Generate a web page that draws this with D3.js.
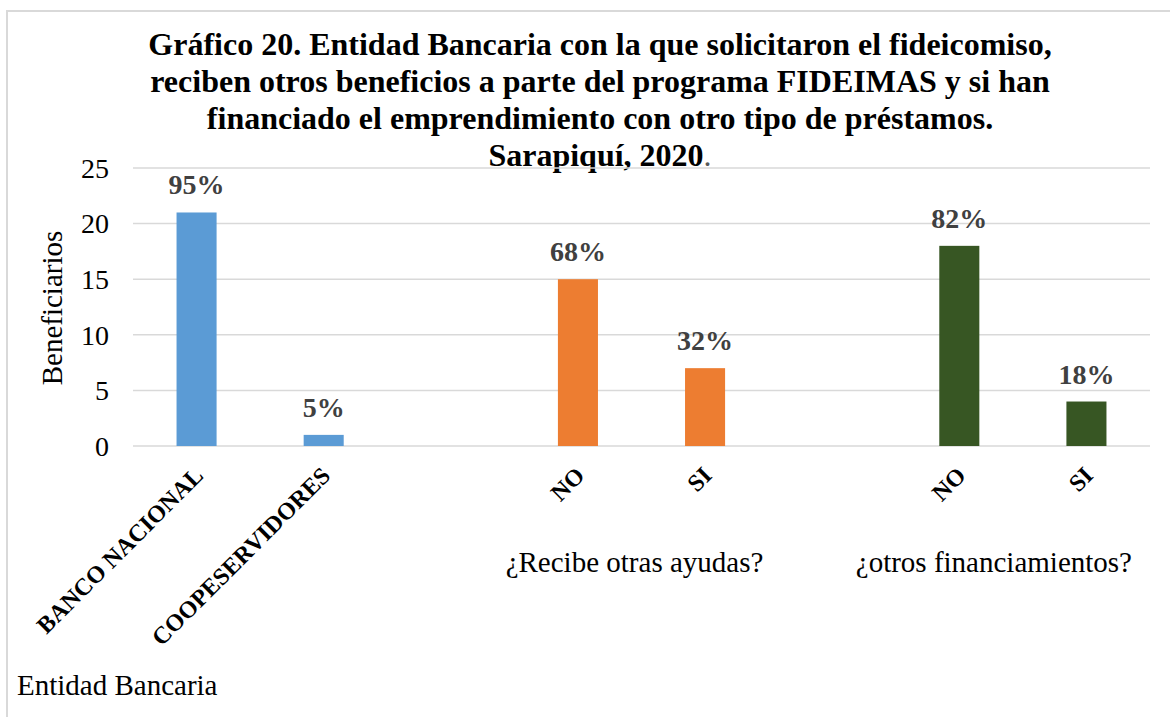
<html>
<head>
    <script src="https://d3js.org/d3.v7.min.js"></script>
    <style type="text/css">
        body { margin: 0; background: #fff; }
        svg { display: block; }
        text { font-family: "Liberation Serif", "Times New Roman", serif; }
        .grid line { stroke: #d9d9d9; stroke-width: 1.5px; }
        .tick-label { font-size: 28px; fill: #000; }
        .cat-label { font-size: 24px; font-weight: bold; fill: #000; }
        .data-label { font-size: 28px; font-weight: bold; fill: #404040; }
        .group-label { font-size: 29px; fill: #000; }
        .title { font-size: 32px; font-weight: bold; fill: #000; }
    </style>
</head>
<body>
    <script type="text/javascript">
        // data
        var groups = ["Entidad Bancaria", "¿Recibe otras ayudas?", "¿otros financiamientos?"];
        var categories = ["BANCO NACIONAL", "COOPESERVIDORES", "NO", "SI", "NO", "SI"];
        var groupOf = [0, 0, 1, 1, 2, 2];
        var values = [21, 1, 15, 7, 18, 4];
        var percents = ["95%", "5%", "68%", "32%", "82%", "18%"];
        var yTicks = [0, 5, 10, 15, 20, 25];
        var groupColors = ["#5B9BD5", "#ED7D31", "#375623"];
        var titleLines = [
            "Gráfico 20. Entidad Bancaria con la que solicitaron el fideicomiso,",
            "reciben otros beneficios a parte del programa FIDEIMAS y si han",
            "financiado el emprendimiento con otro tipo de préstamos.",
            "Sarapiquí, 2020"
        ];

        var width = 1170, height = 717;
        var plot = {left: 133, right: 1150, top: 168, bottom: 446};

        // one slot per bar, plus an empty slot between groups
        var slots = [];
        var rows = categories.map(function (c, i) {
            if (i > 0 && groupOf[i] !== groupOf[i - 1]) slots.push("gap" + i);
            var key = i + "-" + c;
            slots.push(key);
            return {key: key, name: c, group: groupOf[i], value: values[i], pct: percents[i]};
        });

        var x = d3.scaleBand().domain(slots).range([plot.left, plot.right])
            .paddingInner(0.685).paddingOuter(0.3425);
        var y = d3.scaleLinear().domain([0, 25]).range([plot.bottom, plot.top]);

        var svg = d3.select("body").append("svg")
            .attr("width", width).attr("height", height);

        // chart border
        svg.append("rect")
            .attr("x", 7).attr("y", 11).attr("width", 1250).attr("height", 800)
            .attr("fill", "none").attr("stroke", "#d9d9d9").attr("stroke-width", 2);

        // title
        var title = svg.append("text").attr("class", "title").attr("text-anchor", "middle");
        titleLines.forEach(function (line, i) {
            title.append("tspan").attr("x", 600).attr("y", 55 + i * 37).text(line);
        });
        title.append("tspan").attr("font-weight", "normal").attr("fill", "#595959").text(".");

        // gridlines
        svg.append("g").attr("class", "grid")
            .selectAll("line").data(yTicks).enter().append("line")
            .attr("x1", plot.left).attr("x2", plot.right)
            .attr("y1", function (d) { return y(d); })
            .attr("y2", function (d) { return y(d); });

        // y axis labels
        svg.append("g").selectAll("text").data(yTicks).enter().append("text")
            .attr("class", "tick-label")
            .attr("x", 109)
            .attr("y", function (d) { return y(d); })
            .attr("dy", "0.35em")
            .attr("text-anchor", "end")
            .text(function (d) { return d; });

        svg.append("text")
            .attr("class", "group-label")
            .attr("transform", "translate(62," + ((plot.top + plot.bottom) / 2 + 1) + ") rotate(-90)")
            .attr("text-anchor", "middle")
            .text("Beneficiarios");

        // bars
        svg.append("g").selectAll("rect").data(rows).enter().append("rect")
            .attr("x", function (d) { return x(d.key); })
            .attr("width", x.bandwidth())
            .attr("y", function (d) { return y(d.value); })
            .attr("height", function (d) { return y(0) - y(d.value); })
            .attr("fill", function (d) { return groupColors[d.group]; });

        // data labels
        svg.append("g").selectAll("text").data(rows).enter().append("text")
            .attr("class", "data-label")
            .attr("x", function (d) { return x(d.key) + x.bandwidth() / 2; })
            .attr("y", function (d) { return y(d.value) - 18; })
            .attr("text-anchor", "middle")
            .text(function (d) { return d.pct; });

        // rotated category labels
        svg.append("g").selectAll("text").data(rows).enter().append("text")
            .attr("class", "cat-label")
            .attr("text-anchor", "end")
            .attr("transform", function (d) {
                var cx = x(d.key) + x.bandwidth() / 2;
                return "translate(" + (cx + 8) + "," + (plot.bottom + 31) + ") rotate(-45)";
            })
            .text(function (d) { return d.name; });

        // group labels
        svg.append("text").attr("class", "group-label")
            .attr("x", 17).attr("y", 695).text(groups[0]);

        var groupShift = {1: -7, 2: -29};
        [1, 2].forEach(function (g) {
            var members = rows.filter(function (d) { return d.group === g; });
            var cx = d3.mean(members, function (d) { return x(d.key) + x.bandwidth() / 2; });
            svg.append("text").attr("class", "group-label")
                .attr("x", cx + groupShift[g]).attr("y", 572)
                .attr("text-anchor", "middle")
                .text(groups[g]);
        });
    </script>
</body>
</html>
